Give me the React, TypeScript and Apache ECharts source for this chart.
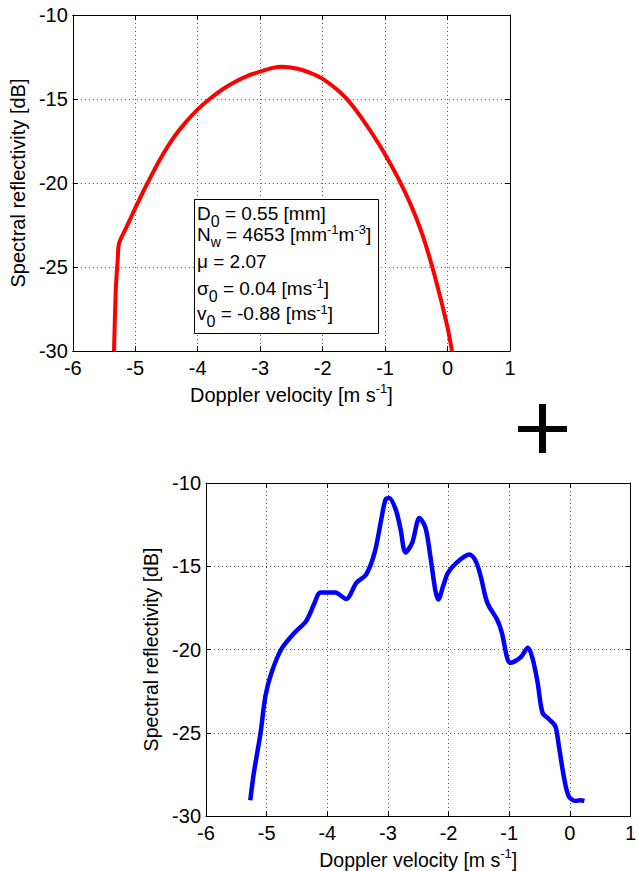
import React, { useEffect, useRef } from "react";
import * as echarts from "echarts";

// Top chart: fitted model spectrum (red)
const redVelocity = [-5.34, -5.31, -5.28, -5.26, -5.15, -5.0, -4.9, -4.8, -4.6, -4.4, -4.2, -4.0, -3.8, -3.6, -3.4, -3.2, -3.0, -2.8, -2.65, -2.4, -2.2, -2.0, -1.8, -1.6, -1.4, -1.2, -1.0, -0.8, -0.6, -0.4, -0.2, 0.0, 0.07];
const redReflectivity = [-30, -26.2, -24.5, -23.6, -22.7, -21.5, -20.72, -19.97, -18.57, -17.37, -16.42, -15.62, -14.97, -14.42, -13.97, -13.62, -13.37, -13.15, -13.08, -13.2, -13.45, -13.8, -14.35, -15.05, -16.0, -17.1, -18.3, -19.65, -21.2, -23.1, -25.6, -28.6, -30];

// Bottom chart: observed spectrum (blue)
const blueVelocity = [-5.27, -5.21, -5.10, -5.02, -4.92, -4.76, -4.54, -4.35, -4.22, -4.11, -3.87, -3.69, -3.52, -3.36, -3.22, -3.11, -3.04, -2.98, -2.87, -2.79, -2.71, -2.60, -2.48, -2.38, -2.30, -2.22, -2.17, -2.09, -2.01, -1.87, -1.66, -1.55, -1.47, -1.36, -1.20, -1.12, -1.04, -0.99, -0.82, -0.69, -0.61, -0.53, -0.45, -0.34, -0.24, -0.18, -0.10, -0.02, 0.09, 0.17, 0.24];
const blueReflectivity = [-29.06, -27.4, -25.0, -22.8, -21.4, -20.0, -19.0, -18.3, -17.3, -16.57, -16.57, -16.97, -16.0, -15.5, -14.2, -12.2, -11.0, -10.9, -11.6, -12.8, -14.17, -13.6, -12.1, -12.7, -14.4, -16.4, -17.0, -16.2, -15.4, -14.8, -14.3, -14.7, -15.6, -17.2, -18.2, -19.0, -20.4, -20.8, -20.5, -19.9, -20.6, -22.0, -23.8, -24.2, -24.6, -25.8, -27.6, -28.8, -29.1, -29.05, -29.1];

const xMin = -6, xMax = 1, xStep = 1;
const yMin = -30, yMax = -10, yStep = 5;

const xTitle = "Doppler velocity [m s{sup|-1}]";
const yTitle = "Spectral reflectivity [dB]";

const paramLines = [
  "D{sub|0} = 0.55 [mm]",
  "N{subw|w} = 4653 [mm{sup|-1}m{sup|-3}]",
  "μ = 2.07",
  "σ{sub|0} = 0.04 [ms{sup|-1}]",
  "v{sub|0} = -0.88 [ms{sup|-1}]",
];

const FONT = "Liberation Sans, Arial, Helvetica, sans-serif";

function axesFor(gridIndex: number, titleSize: number, yGap: number) {
  const base = {
    gridIndex,
    type: "value" as const,
    axisLine: { show: true, onZero: false, lineStyle: { color: "#000", width: 1 } },
    axisTick: { show: true, inside: true, length: 5, lineStyle: { color: "#000" } },
  };
  const x = [
    {
      ...base,
      min: xMin, max: xMax, interval: xStep,
      position: "bottom",
      axisLabel: { fontSize: 20, color: "#000", margin: 7, fontFamily: FONT },
      splitLine: { show: true, lineStyle: { type: [1, 3], color: "#555", width: 1 } },
      name: xTitle,
      nameLocation: "middle",
      nameGap: 31,
      nameTextStyle: {
        fontSize: titleSize, color: "#000", fontFamily: FONT,
        rich: { sup: { fontSize: 13, color: "#000", fontFamily: FONT, padding: [0, 0, 12, 0] } },
      },
    },
    {
      ...base,
      min: xMin, max: xMax, interval: xStep,
      position: "top",
      axisLabel: { show: false },
      splitLine: { show: false },
    },
  ];
  const y = [
    {
      ...base,
      min: yMin, max: yMax, interval: yStep,
      position: "left",
      axisLabel: { fontSize: 20, color: "#000", margin: 5, fontFamily: FONT },
      splitLine: { show: true, lineStyle: { type: [1, 3], color: "#555", width: 1 } },
      name: yTitle,
      nameLocation: "middle",
      nameGap: yGap,
      nameTextStyle: { fontSize: titleSize, color: "#000", fontFamily: FONT },
    },
    {
      ...base,
      min: yMin, max: yMax, interval: yStep,
      position: "right",
      axisLabel: { show: false },
      splitLine: { show: false },
    },
  ];
  return { x, y };
}

export default function App() {
  const ref = useRef<HTMLDivElement>(null);
  useEffect(() => {
    if (!ref.current) return;
    const chart = echarts.init(ref.current, undefined, { renderer: "svg" });
    const a0 = axesFor(0, 20, 38);
    const a1 = axesFor(1, 19.5, 37);
    const richText = {
      sub: { fontSize: 16, fontFamily: FONT, fill: "#000", padding: [16, 0, 0, 0] },
      subw: { fontSize: 14, fontFamily: FONT, fill: "#000", padding: [16, 0, 0, 0] },
      sup: { fontSize: 13, fontFamily: FONT, fill: "#000", padding: [0, 0, 9, 0] },
    };
    const lineCenters = [213, 234, 261, 288, 313.5];
    chart.setOption({
      animation: false,
      backgroundColor: "#fff",
      grid: [
        { left: 72, top: 15, width: 438, height: 336 },
        { left: 206, top: 483, width: 434, height: 333 },
      ],
      xAxis: [...a0.x, ...a1.x],
      yAxis: [...a0.y, ...a1.y],
      series: [
        {
          type: "line",
          xAxisIndex: 0,
          yAxisIndex: 0,
          data: redVelocity.map((v, i) => [v, redReflectivity[i]]),
          showSymbol: false,
          smooth: 0.3,
          color: "#ff0000",
          lineStyle: { color: "#ff0000", width: 4 },
        },
        {
          type: "line",
          xAxisIndex: 2,
          yAxisIndex: 2,
          data: blueVelocity.map((v, i) => [v, blueReflectivity[i]]),
          showSymbol: false,
          smooth: 0.3,
          color: "#0000ff",
          lineStyle: { color: "#0000ff", width: 4.5 },
        },
      ],
      graphic: [
        {
          type: "rect",
          z: 10,
          shape: { x: 194.5, y: 199.5, width: 184, height: 134 },
          style: { fill: "#fff", stroke: "#000", lineWidth: 1 },
        },
        ...paramLines.map((t, i) => ({
          type: "text",
          z: 11,
          x: 197,
          y: lineCenters[i],
          style: {
            text: t,
            fontSize: 19,
            fontFamily: FONT,
            fill: "#000",
            verticalAlign: "middle",
            align: "left",
            rich: richText,
          },
        })),
        {
          type: "rect",
          z: 10,
          shape: { x: 539, y: 404, width: 7, height: 49 },
          style: { fill: "#000" },
        },
        {
          type: "rect",
          z: 10,
          shape: { x: 518, y: 426, width: 49, height: 6 },
          style: { fill: "#000" },
        },
      ],
    });
    return () => chart.dispose();
  }, []);
  return (
    <div
      ref={ref}
      style={{ position: "absolute", left: 0, top: 0, width: 639, height: 871, background: "#fff" }}
    />
  );
}
